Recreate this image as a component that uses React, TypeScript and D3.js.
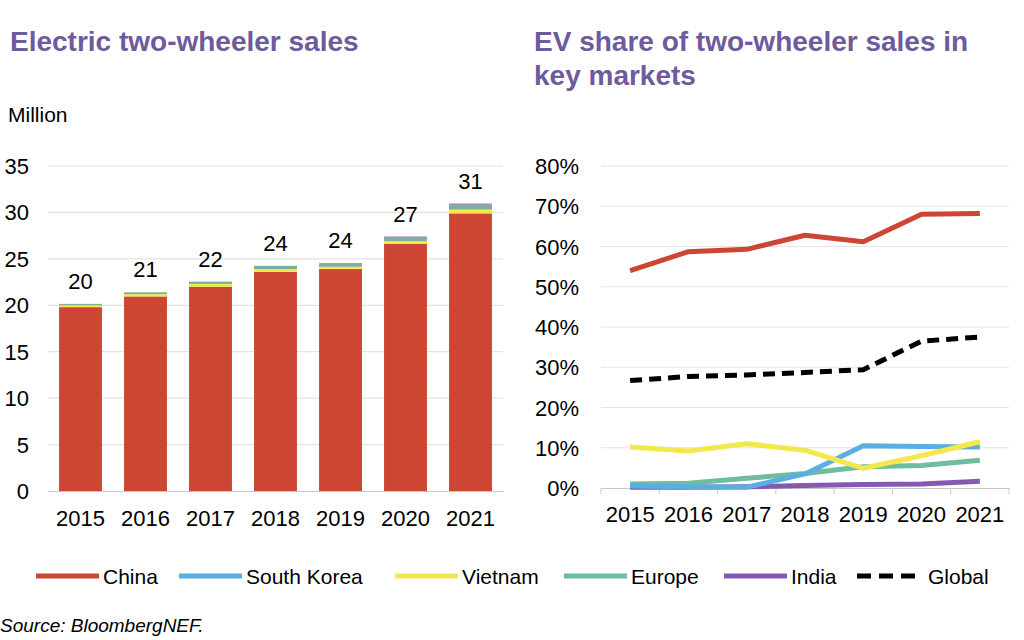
import { useEffect, useRef } from "react";
import * as d3 from "d3";

const years = ["2015", "2016", "2017", "2018", "2019", "2020", "2021"];

// left chart: sales, million units
const salesChina = [19.8, 20.95, 22.0, 23.6, 23.9, 26.6, 29.9];
const salesKorea = [0.0, 0.0, 0.0, 0.0, 0.0, 0.0, 0.05];
const salesVietnam = [0.2, 0.25, 0.3, 0.3, 0.25, 0.3, 0.4];
const salesEurope = [0.15, 0.2, 0.25, 0.35, 0.35, 0.45, 0.5];
const salesIndia = [0.0, 0.0, 0.0, 0.0, 0.05, 0.05, 0.1];
const totalLabels = ["20", "21", "22", "24", "24", "27", "31"];
const salesTicks = [0, 5, 10, 15, 20, 25, 30, 35];

// right chart: EV share, %
const shareChina = [54.0, 58.7, 59.3, 62.8, 61.2, 68.0, 68.2];
const shareKorea = [0.5, 0.3, 0.2, 3.5, 10.5, 10.3, 10.2];
const shareVietnam = [10.2, 9.2, 11.0, 9.4, 4.9, 8.0, 11.5];
const shareEurope = [1.0, 1.2, 2.4, 3.6, 5.3, 5.6, 6.9];
const shareIndia = [0.2, 0.2, 0.3, 0.6, 0.9, 1.0, 1.7];
const shareGlobal = [26.7, 27.7, 28.1, 28.7, 29.4, 36.5, 37.5];
const shareTicks = [0, 10, 20, 30, 40, 50, 60, 70, 80];

const seriesNames = ["China", "South Korea", "Vietnam", "Europe", "India", "Global"];
const colors: Record<string, string> = {
  China: "#cc4633",
  "South Korea": "#5aaee0",
  Vietnam: "#f2e84e",
  Europe: "#6dbd9e",
  India: "#8559b0",
  Global: "#000000",
};

const FONT = "'Liberation Sans', Arial, sans-serif";
const TITLE = "#6e5a9c";

export default function App() {
  const ref = useRef<SVGSVGElement>(null);

  useEffect(() => {
    if (!ref.current) return;
    const svg = d3.select(ref.current);
    svg.selectAll("*").remove();
    svg.style("font-family", FONT);

    // titles
    svg.append("text").attr("x", 10).attr("y", 51)
      .attr("fill", TITLE).attr("font-weight", "bold").attr("font-size", 28)
      .text("Electric two-wheeler sales");
    const t2 = svg.append("text").attr("fill", TITLE).attr("font-weight", "bold").attr("font-size", 28);
    t2.append("tspan").attr("x", 534).attr("y", 51).text("EV share of two-wheeler sales in");
    t2.append("tspan").attr("x", 534).attr("y", 85).text("key markets");
    svg.append("text").attr("x", 8).attr("y", 122).attr("font-size", 21).attr("fill", "#000").text("Million");

    // ---- left: stacked bars
    const x = d3.scaleBand().domain(years).range([48, 503]).paddingInner(0.34).paddingOuter(0.17);
    const y = d3.scaleLinear().domain([0, 35]).range([491, 166]);

    const gl = svg.append("g");
    gl.selectAll("line.grid").data(salesTicks.slice(1)).enter().append("line")
      .attr("x1", 48).attr("x2", 503)
      .attr("y1", (d) => y(d)).attr("y2", (d) => y(d))
      .attr("stroke", "#e4e4e4").attr("stroke-width", 1.2);
    gl.selectAll("text.tick").data(salesTicks).enter().append("text")
      .attr("x", 29).attr("y", (d) => y(d) + 8).attr("text-anchor", "end")
      .attr("font-size", 22).text((d) => d);

    const rows = years.map((yr, i) => ({
      year: yr,
      China: salesChina[i],
      "South Korea": salesKorea[i],
      Vietnam: salesVietnam[i],
      Europe: salesEurope[i],
      India: salesIndia[i],
    }));
    const stackKeys = ["China", "Vietnam", "South Korea", "Europe", "India"];
    const stacked = d3.stack<any>().keys(stackKeys)(rows);
    gl.selectAll("g.layer").data(stacked).enter().append("g")
      .attr("fill", (d) => (d.key === "Europe" ? "#7fae9c" : colors[d.key]))
      .selectAll("rect").data((d) => d).enter().append("rect")
      .attr("x", (d) => x(d.data.year)!)
      .attr("width", x.bandwidth())
      .attr("y", (d) => y(d[1]))
      .attr("height", (d) => Math.max(0, y(d[0]) - y(d[1])));

    const totals = rows.map((r) => stackKeys.reduce((s, k) => s + (r as any)[k], 0));
    gl.selectAll("text.total").data(totals).enter().append("text")
      .attr("x", (_, i) => x(years[i])! + x.bandwidth() / 2)
      .attr("y", (d) => y(d) - 15)
      .attr("text-anchor", "middle").attr("font-size", 22)
      .text((_, i) => totalLabels[i]);

    const axL = gl.append("g").attr("transform", "translate(0,491)")
      .call(d3.axisBottom(x).tickSize(0).tickPadding(19));
    axL.select(".domain").attr("stroke", "#c8c8c8").attr("stroke-width", 1.2);
    axL.selectAll("text").attr("font-size", 22).attr("font-family", FONT).attr("fill", "#000");

    // ---- right: lines
    const x2 = d3.scaleBand().domain(years).range([601, 1009]);
    const y2 = d3.scaleLinear().domain([0, 80]).range([488, 166]);
    const gr = svg.append("g");
    gr.selectAll("line.grid").data(shareTicks.slice(1)).enter().append("line")
      .attr("x1", 601).attr("x2", 1009)
      .attr("y1", (d) => y2(d)).attr("y2", (d) => y2(d))
      .attr("stroke", "#e4e4e4").attr("stroke-width", 1.2);
    gr.selectAll("text.tick").data(shareTicks).enter().append("text")
      .attr("x", 579).attr("y", (d) => y2(d) + 8).attr("text-anchor", "end")
      .attr("font-size", 22).text((d) => d + "%");

    const axR = gr.append("g").attr("transform", "translate(0,488)")
      .call(d3.axisBottom(x2).tickSize(0).tickPadding(18));
    axR.select(".domain").attr("stroke", "#c8c8c8").attr("stroke-width", 1.2);
    axR.selectAll("text").attr("font-size", 22).attr("font-family", FONT).attr("fill", "#000");
    gr.selectAll("line.sep").data(years.concat(["end"])).enter().append("line")
      .attr("x1", (_, i) => 601 + i * x2.step()).attr("x2", (_, i) => 601 + i * x2.step())
      .attr("y1", 488).attr("y2", 494).attr("stroke", "#c8c8c8");

    const lineSeries: [string, number[]][] = [
      ["India", shareIndia],
      ["Europe", shareEurope],
      ["South Korea", shareKorea],
      ["Vietnam", shareVietnam],
      ["China", shareChina],
      ["Global", shareGlobal],
    ];
    const line = d3.line<number>()
      .x((_, i) => x2(years[i])! + x2.bandwidth() / 2)
      .y((d) => y2(d));
    lineSeries.forEach(([name, vals]) => {
      gr.append("path").datum(vals)
        .attr("d", line)
        .attr("fill", "none")
        .attr("stroke", colors[name])
        .attr("stroke-width", 5)
        .attr("stroke-linejoin", "round")
        .attr("stroke-dasharray", name === "Global" ? "12,7" : null);
    });

    // ---- legend
    const legendX = [36, 179, 395, 564, 724, 857];
    const lg = svg.append("g").attr("transform", "translate(0,576)");
    seriesNames.forEach((name, i) => {
      const lx = legendX[i];
      const len = name === "Global" ? 58 : 63;
      lg.append("line").attr("x1", lx).attr("x2", lx + len).attr("y1", 0).attr("y2", 0)
        .attr("stroke", colors[name]).attr("stroke-width", 5)
        .attr("stroke-dasharray", name === "Global" ? "14,8" : null);
      lg.append("text").attr("x", lx + len + (name === "Global" ? 13 : 4)).attr("y", 8)
        .attr("font-size", 21).text(name);
    });

    svg.append("text").attr("x", 0).attr("y", 632)
      .attr("font-size", 19).attr("font-style", "italic")
      .text("Source: BloombergNEF.");
  }, []);

  return (
    <svg
      ref={ref}
      width={1024}
      height={640}
      style={{ position: "absolute", left: 0, top: 0, background: "#fff" }}
    />
  );
}
